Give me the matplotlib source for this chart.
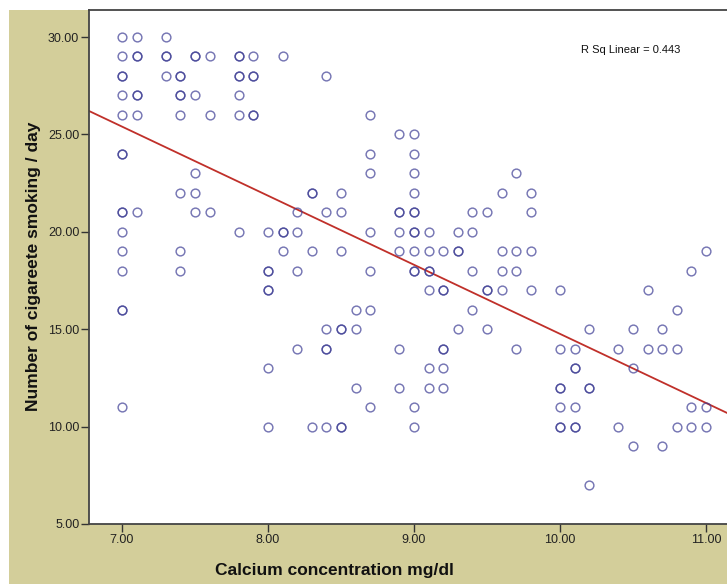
import numpy as np
import matplotlib
matplotlib.use("Agg")
import matplotlib.pyplot as plt
from matplotlib.patches import Rectangle

# (calcium, cigarettes/day); repeated pairs are overlapping cases
calcium = [
    7.0, 7.0, 7.0, 7.0, 7.0, 7.0, 7.0, 7.0, 7.0, 7.0, 7.0, 7.0, 7.0, 7.0, 7.0, 7.0,
    7.1, 7.1, 7.1, 7.1, 7.1, 7.1, 7.1,
    7.3, 7.3, 7.3, 7.3,
    7.4, 7.4, 7.4, 7.4, 7.4, 7.4, 7.4, 7.4,
    7.5, 7.5, 7.5, 7.5, 7.5, 7.5,
    7.6, 7.6, 7.6,
    7.8, 7.8, 7.8, 7.8, 7.8, 7.8, 7.8,
    7.9, 7.9, 7.9, 7.9, 7.9,
    8.0, 8.0, 8.0, 8.0, 8.0, 8.0, 8.0,
    8.1, 8.1, 8.1, 8.1,
    8.2, 8.2, 8.2, 8.2,
    8.3, 8.3, 8.3, 8.3,
    8.4, 8.4, 8.4, 8.4, 8.4, 8.4,
    8.5, 8.5, 8.5, 8.5, 8.5, 8.5, 8.5,
    8.6, 8.6, 8.6,
    8.7, 8.7, 8.7, 8.7, 8.7, 8.7, 8.7,
    8.9, 8.9, 8.9, 8.9, 8.9, 8.9, 8.9,
    9.0, 9.0, 9.0, 9.0, 9.0, 9.0, 9.0, 9.0, 9.0, 9.0, 9.0, 9.0, 9.0,
    9.1, 9.1, 9.1, 9.1, 9.1, 9.1, 9.1,
    9.2, 9.2, 9.2, 9.2, 9.2, 9.2, 9.2,
    9.3, 9.3, 9.3, 9.3,
    9.4, 9.4, 9.4, 9.4,
    9.5, 9.5, 9.5, 9.5,
    9.6, 9.6, 9.6, 9.6,
    9.7, 9.7, 9.7, 9.7,
    9.8, 9.8, 9.8, 9.8,
    10.0, 10.0, 10.0, 10.0, 10.0, 10.0, 10.0,
    10.1, 10.1, 10.1, 10.1, 10.1, 10.1,
    10.2, 10.2, 10.2, 10.2,
    10.4, 10.4,
    10.5, 10.5, 10.5,
    10.6, 10.6,
    10.7, 10.7, 10.7,
    10.8, 10.8, 10.8,
    10.9, 10.9, 10.9,
    11.0, 11.0, 11.0,
]
cigarettes = [
    30, 29, 28, 28, 27, 26, 24, 24, 21, 21, 20, 19, 18, 16, 16, 11,
    30, 29, 29, 27, 27, 26, 21,
    30, 29, 29, 28,
    28, 28, 27, 27, 26, 22, 19, 18,
    29, 29, 27, 23, 22, 21,
    29, 26, 21,
    29, 29, 28, 28, 27, 26, 20,
    29, 28, 28, 26, 26,
    20, 18, 18, 17, 17, 13, 10,
    29, 20, 20, 19,
    21, 20, 18, 14,
    22, 22, 19, 10,
    28, 21, 15, 14, 14, 10,
    22, 21, 19, 15, 15, 10, 10,
    16, 15, 12,
    26, 24, 23, 20, 18, 16, 11,
    25, 21, 21, 20, 19, 14, 12,
    25, 24, 23, 22, 21, 21, 20, 20, 19, 18, 18, 11, 10,
    20, 19, 18, 18, 17, 13, 12,
    19, 17, 17, 14, 14, 13, 12,
    20, 19, 19, 15,
    21, 20, 18, 16,
    21, 17, 17, 15,
    22, 19, 18, 17,
    23, 19, 18, 14,
    22, 21, 19, 17,
    17, 14, 12, 12, 11, 10, 10,
    14, 13, 13, 11, 10, 10,
    15, 12, 12, 7,
    14, 10,
    15, 13, 9,
    17, 14,
    15, 14, 9,
    16, 14, 10,
    18, 11, 10,
    19, 11, 10,
]
# linear fit line
fit_intercept = 50.23
fit_slope = -3.547
x_ticks = [7.0, 8.0, 9.0, 10.0, 11.0]
y_ticks = [5, 10, 15, 20, 25, 30]
r_sq_label = "R Sq Linear = 0.443"
x_label = "Calcium concentration mg/dl"
y_label = "Number of cigareete smoking / day"

plt.rcParams['font.family'] = ['Liberation Sans', 'DejaVu Sans']

W, H = 727, 584
fig = plt.figure(figsize=(W / 100, H / 100), dpi=100)
fig.patch.set_facecolor('white')
bg = Rectangle((9 / W, 0), 1, (H - 10) / H, transform=fig.transFigure,
               facecolor='#D3CE9A', edgecolor='none', zorder=-10)
fig.patches.append(bg)

ax = fig.add_axes([89 / W, (H - 524) / H, (W - 89) / W + 0.01, (524 - 10) / H])
ax.set_zorder(1)
ax.set_facecolor('white')

xs = np.array(calcium)
ys = np.array(cigarettes, dtype=float)
ax.plot(xs, ys, linestyle='none', marker='o', markersize=6.3,
        markerfacecolor='none', markeredgecolor=(0.24, 0.24, 0.58, 0.7),
        markeredgewidth=1.05, zorder=3)

xl = np.array([6.5, 11.5])
ax.plot(xl, fit_intercept + fit_slope * xl, color='#C0302A', linewidth=1.3, zorder=2)

ax.set_xlim(6.774, 6.774 + (W - 89) / 146 + 0.01 * W / 146)
ax.set_ylim(5, 5 + (524 - 10) / 19.48)
ax.set_xticks(x_ticks)
ax.set_yticks(y_ticks)
ax.set_xticklabels([f"{v:.2f}" for v in x_ticks])
ax.set_yticklabels([f"{v:.2f}" for v in y_ticks])
ax.tick_params(direction='out', length=6, width=1, color='#333333',
               labelsize=9, labelcolor='#222222', pad=1)
for s in ['left', 'bottom', 'top']:
    ax.spines[s].set_color('#444444')
    ax.spines[s].set_linewidth(1.3)
ax.spines['right'].set_visible(False)

fig.text(334 / W, (H - 570) / H, x_label, ha='center', va='center',
         fontsize=12.5, fontweight='bold', color='#111111')
fig.text(33.5 / W, (H - 266) / H, y_label, ha='center', va='center',
         rotation=90, fontsize=12.5, fontweight='bold', color='#111111')
fig.text(581 / W, (H - 50) / H, r_sq_label, ha='left', va='center',
         fontsize=8, color='#111111')

fig.savefig('out.png', dpi=100, facecolor='white')
